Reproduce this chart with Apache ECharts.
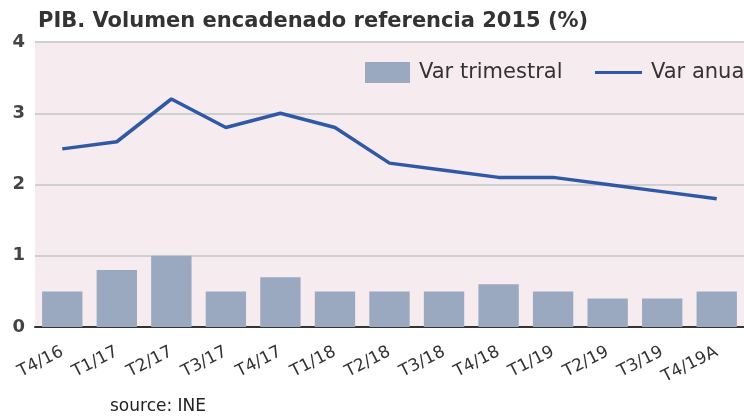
<!DOCTYPE html>
<html>
<head>
<meta charset="utf-8">
<script src="https://cdn.jsdelivr.net/npm/echarts@6/dist/echarts.min.js"></script>
<style>
    html, body { margin: 0; padding: 0; background: #fff; }
    #chart { width: 744px; height: 417px; }
</style>
</head>
<body>
<div id="chart"></div>
<script>
// trimestres
const categories = ['T4/16', 'T1/17', 'T2/17', 'T3/17', 'T4/17', 'T1/18', 'T2/18', 'T3/18', 'T4/18', 'T1/19', 'T2/19', 'T3/19', 'T4/19A']
// variacion trimestral (barras)
const varTrimestral = [0.5, 0.8, 1.0, 0.5, 0.7, 0.5, 0.5, 0.5, 0.6, 0.5, 0.4, 0.4, 0.5]
// variacion anual (linea)
const varAnual = [2.5, 2.6, 3.2, 2.8, 3.0, 2.8, 2.3, 2.2, 2.1, 2.1, 2.0, 1.9, 1.8]

const font = 'DejaVu Sans'
const legendText = { fontFamily: font, fontSize: 21, color: '#333', padding: [0, 0, 0, 4] }
let myChart = echarts.init(document.getElementById('chart'))
let option = {
    animation: false,
    title: {
        text: 'PIB. Volumen encadenado referencia 2015 (%)',
        left: 33,
        top: 6,
        textStyle: { fontFamily: font, fontSize: 21, fontWeight: 'bold', color: '#333' }
    },
    graphic: [{
        type: 'text',
        left: 110,
        top: 398,
        style: { text: 'source: INE', font: '17px "DejaVu Sans"', fill: '#222' }
    }],
    // dos leyendas separadas para que no salte de linea
    legend: [
        {
            left: 360,
            top: 57,
            itemWidth: 45,
            itemHeight: 21,
            textStyle: legendText,
            data: [{ name: 'Var trimestral', icon: 'rect' }]
        },
        {
            left: 590,
            top: 57,
            itemWidth: 47,
            itemHeight: 21,
            textStyle: legendText,
            data: [{ name: 'Var anual', icon: 'path://M0,0H15V1H0Z' }]
        }
    ],
    grid: {
        left: 35,
        right: 0,
        top: 42,
        bottom: 90,
        show: true,
        backgroundColor: '#f6ebef',
        borderWidth: 0
    },
    xAxis: {
        type: 'category',
        data: categories,
        axisTick: { show: false },
        axisLine: { lineStyle: { color: '#333', width: 2 } },
        axisLabel: {
            rotate: 27,
            interval: 0,
            margin: 24,
            fontFamily: font,
            fontSize: 17,
            color: '#333'
        }
    },
    yAxis: {
        type: 'value',
        min: 0,
        max: 4,
        interval: 1,
        axisLine: { show: false },
        axisTick: { show: false },
        axisLabel: { fontFamily: font, fontSize: 18, fontWeight: 'bold', color: '#444', margin: 10 },
        splitLine: { lineStyle: { color: '#cfcfcf', width: 2 } }
    },
    series: [
        {
            name: 'Var trimestral',
            type: 'bar',
            data: varTrimestral,
            barWidth: '74%',
            itemStyle: { color: '#9ba9c0' }
        },
        {
            name: 'Var anual',
            type: 'line',
            data: varAnual,
            symbol: 'none',
            lineStyle: { color: '#2f59a6', width: 3.5 },
            itemStyle: { color: '#2f59a6' }
        }
    ]
}
myChart.setOption(option)
</script>
</body>
</html>
